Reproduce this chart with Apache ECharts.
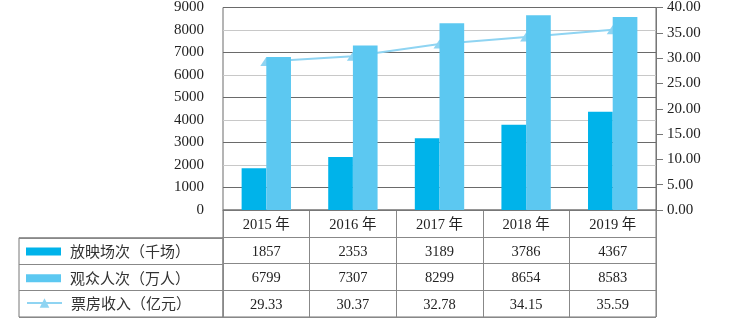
<!DOCTYPE html>
<html><head><meta charset="utf-8">
<script src="https://cdn.jsdelivr.net/npm/echarts@6/dist/echarts.min.js"></script>
<style>html,body{margin:0;padding:0;background:#fff}#c{width:742px;height:326px}</style>
</head><body><div id="c"></div>
<script>
const years = ['2015 年', '2016 年', '2017 年', '2018 年', '2019 年'];
const screenings = [1857, 2353, 3189, 3786, 4367];
const audience = [6799, 7307, 8299, 8654, 8583];
const boxOffice = [29.33, 30.37, 32.78, 34.15, 35.59];
const seriesNames = ['放映场次（千场）', '观众人次（万人）', '票房收入（亿元）'];
const tableRows = [screenings, audience, boxOffice.map(v => v.toFixed(2))];

const NUM = "'Liberation Serif', 'Noto Sans CJK SC', serif";
const CJK = "'Noto Sans CJK SC', sans-serif";
const C1 = '#00B3EA', C2 = '#5CC8F1', C3 = '#8FD4F2';
const chart = echarts.init(document.getElementById('c'));

const valueAxes = tableRows.map((row, r) => ({
  type: 'category', gridIndex: 0, position: 'bottom', offset: 26.5 * (r + 1),
  data: years, axisLine: {show: false}, axisTick: {show: false},
  axisLabel: {margin: 8, interval: 0, fontFamily: NUM, fontSize: 14.5, color: '#222',
    formatter: (v, i) => String(row[i])}
}));

chart.setOption({
  animation: false,
  grid: [
    {left: 223, right: 86, top: 7, bottom: 116, show: true, borderColor: '#6a6a6a', borderWidth: 1, containLabel: false},
    {left: 223, right: 86, top: 210, bottom: 9, show: true, borderColor: '#777', borderWidth: 1},
    {left: 19, width: 204, top: 237.75, bottom: 9, show: true, borderColor: '#777', borderWidth: 1}
  ],
  legend: seriesNames.map((n, i) => ({
    data: [{name: n, icon: i < 2 ? 'rect' : undefined}], left: 26, top: (i < 2 ? 244 : 242) + 26.75 * i, padding: 0,
    itemWidth: 35, itemHeight: i < 2 ? 8 : 12, selectedMode: false,
    textStyle: {fontFamily: CJK, fontSize: 15, color: '#333', padding: [0, 0, 0, 4]}
  })),
  xAxis: [
    {type: 'category', gridIndex: 0, data: years, position: 'bottom',
      axisLine: {show: true, lineStyle: {color: '#777'}}, axisTick: {show: false},
      axisLabel: {margin: 8, interval: 0, fontFamily: NUM, fontSize: 14.5, color: '#222'}},
    ...valueAxes,
    {type: 'category', gridIndex: 1, data: years, axisLine: {show: false}, axisTick: {show: false},
      axisLabel: {show: false}, splitLine: {show: true, interval: 0, lineStyle: {color: '#888'}}},
    {type: 'value', gridIndex: 2, show: false}
  ],
  yAxis: [
    {type: 'value', gridIndex: 0, min: 0, max: 9000, interval: 1000,
      axisLine: {show: false}, axisTick: {show: false},
      axisLabel: {margin: 19, fontFamily: NUM, fontSize: 15, color: '#222', formatter: v => String(v)},
      splitLine: {show: true, lineStyle: {color: ['#c8c8c8', '#6a6a6a']}}},
    {type: 'value', gridIndex: 0, position: 'right', min: 0, max: 40, interval: 5,
      axisLine: {show: true, lineStyle: {color: '#777'}},
      axisTick: {show: true, length: 7, lineStyle: {color: '#777'}},
      axisLabel: {margin: 11, fontFamily: NUM, fontSize: 15, color: '#222', formatter: v => v.toFixed(2)},
      splitLine: {show: false}},
    {type: 'category', gridIndex: 1, inverse: true, data: ['h', 'a', 'b', 'c'],
      axisLine: {show: false}, axisTick: {show: false}, axisLabel: {show: false},
      splitLine: {show: true, interval: 0, lineStyle: {color: '#888'}}},
    {type: 'category', gridIndex: 2, inverse: true, data: ['a', 'b', 'c'],
      axisLine: {show: false}, axisTick: {show: false}, axisLabel: {show: false},
      splitLine: {show: true, interval: 0, lineStyle: {color: '#888'}}}
  ],
  series: [
    {name: seriesNames[0], type: 'bar', xAxisIndex: 0, yAxisIndex: 0, data: screenings,
      itemStyle: {color: C1}, barGap: '0%', barCategoryGap: '43%', z: 3},
    {name: seriesNames[1], type: 'bar', xAxisIndex: 0, yAxisIndex: 0, data: audience,
      itemStyle: {color: C2}, barGap: '0%', barCategoryGap: '43%', z: 3},
    {name: seriesNames[2], type: 'line', xAxisIndex: 0, yAxisIndex: 1, data: boxOffice,
      symbol: 'triangle', symbolSize: [12, 9], showSymbol: true, z: 2,
      itemStyle: {color: C3}, lineStyle: {color: C3, width: 2}}
  ]
});
</script></body></html>
